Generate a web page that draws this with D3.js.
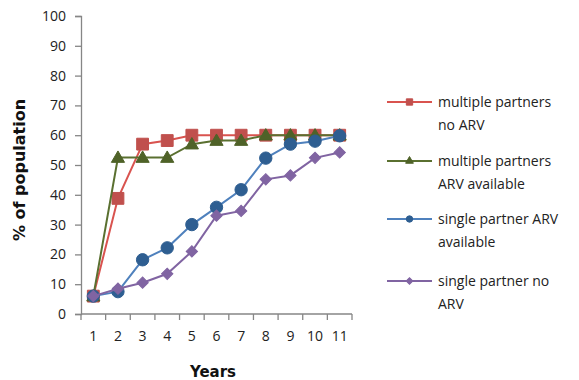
<!DOCTYPE html>
<html>
<head>
<meta charset="utf-8">
<script src="https://cdn.jsdelivr.net/npm/d3@7"></script>
<style>
  html, body { margin: 0; padding: 0; background: #fff; }
  svg { display: block; }
</style>
</head>
<body>
<svg id="chart" width="579" height="380"></svg>
<script>
// Years on the horizontal axis
const years = [1, 2, 3, 4, 5, 6, 7, 8, 9, 10, 11];
const yTicks = [0, 10, 20, 30, 40, 50, 60, 70, 80, 90, 100];

// % of population infected, per scenario
const multipleNoArv = [6, 38.8, 57, 58.2, 60, 60, 60, 60, 60, 60, 60];
const multipleArv   = [6, 52.5, 52.5, 52.5, 57, 58.2, 58.2, 60, 60, 60, 60];
const singleArv     = [6, 7.5, 18.2, 22.2, 30, 35.8, 41.7, 52.3, 57, 58, 59.8];
const singleNoArv   = [6, 8.5, 10.5, 13.5, 21, 33, 34.6, 45.2, 46.5, 52.4, 54.2];

const seriesNames = [
  ["multiple partners", "no ARV"],
  ["multiple partners", "ARV available"],
  ["single partner ARV", "available"],
  ["single partner no", "ARV"]
];

const series = [
  { name: seriesNames[0], values: multipleNoArv, line: "#D9534F", fill: "#C0504D", stroke: "#C0504D", shape: "square" },
  { name: seriesNames[1], values: multipleArv,   line: "#5A7030", fill: "#4F6228", stroke: "#4F6228", shape: "triangle" },
  { name: seriesNames[2], values: singleArv,     line: "#4F81BD", fill: "#2E5E91", stroke: "#2E5E91", shape: "circle" },
  { name: seriesNames[3], values: singleNoArv,   line: "#8064A2", fill: "#8064A2", stroke: "#8064A2", shape: "diamond" }
];

const svg = d3.select("#chart");
const plot = { left: 81, right: 352, top: 16, bottom: 314 };

const x = d3.scaleBand().domain(years).range([plot.left, plot.right]).padding(0);
const y = d3.scaleLinear().domain([0, 100]).range([plot.bottom, plot.top]);
const cx = d => x(d) + x.bandwidth() / 2;

const tickFont = "'Open Sans', 'Noto Sans', sans-serif";
const axisColor = "#868686";

// Y axis
const yAxis = svg.append("g")
  .attr("transform", `translate(${plot.left},0)`)
  .call(d3.axisLeft(y).tickValues(yTicks).tickSize(6).tickPadding(9));
// X axis with ticks on category boundaries
const boundaries = d3.range(years.length + 1).map(i => plot.left + i * x.bandwidth());
const xAxisG = svg.append("g").attr("transform", `translate(0,${plot.bottom})`);
xAxisG.append("line")
  .attr("x1", plot.left).attr("x2", plot.right)
  .attr("stroke", axisColor).attr("stroke-width", 1.3);
xAxisG.selectAll("line.tk").data(boundaries).join("line")
  .attr("class", "tk")
  .attr("x1", d => d).attr("x2", d => d)
  .attr("y1", 0).attr("y2", 6)
  .attr("stroke", axisColor).attr("stroke-width", 1.3);
xAxisG.selectAll("text").data(years).join("text")
  .attr("x", d => cx(d)).attr("y", 23)
  .attr("dy", "0.32em")
  .attr("text-anchor", "middle")
  .attr("font-family", tickFont).attr("font-size", 14)
  .attr("fill", "#222")
  .text(d => d);

yAxis.select(".domain").attr("stroke", axisColor).attr("stroke-width", 1.3);
yAxis.selectAll(".tick line").attr("stroke", axisColor).attr("stroke-width", 1.3);
yAxis.selectAll(".tick text")
  .attr("font-family", tickFont).attr("font-size", 14).attr("fill", "#222");

// Axis titles
svg.append("text")
  .attr("transform", `translate(19,170) rotate(-90)`)
  .attr("text-anchor", "middle")
  .attr("dy", "0.35em")
  .attr("font-family", "'DejaVu Sans', sans-serif")
  .attr("font-weight", "bold").attr("font-size", 16)
  .attr("fill", "#111")
  .text("% of population");

svg.append("text")
  .attr("x", 213).attr("y", 372)
  .attr("dy", "0.35em")
  .attr("text-anchor", "middle")
  .attr("font-family", "'DejaVu Sans', sans-serif")
  .attr("font-weight", "bold").attr("font-size", 15)
  .attr("fill", "#111")
  .text("Years");

// Marker shapes; the diamond is a square turned 45 degrees
const symbolFor = {
  square: d3.symbolSquare,
  triangle: d3.symbolTriangle,
  circle: d3.symbolCircle,
  diamond: d3.symbolSquare
};
const sizeFor = { square: 140, triangle: 75, circle: 120, diamond: 64 };
const legendSizeFor = { square: 40, triangle: 26, circle: 32, diamond: 22 };
const rotFor = { square: 0, triangle: 0, circle: 0, diamond: 45 };

const line = d3.line().x((d, i) => cx(years[i])).y(d => y(d));

series.forEach(s => {
  const g = svg.append("g");
  g.append("path")
    .datum(s.values)
    .attr("d", line)
    .attr("fill", "none")
    .attr("stroke", s.line)
    .attr("stroke-width", 2);
  g.selectAll("path.m").data(s.values).join("path")
    .attr("class", "m")
    .attr("transform", (d, i) => {
      const off = s.shape === "triangle" ? 1 : 0;
      return `translate(${cx(years[i])},${y(d) + off}) rotate(${rotFor[s.shape]})`;
    })
    .attr("d", d3.symbol().type(symbolFor[s.shape]).size(sizeFor[s.shape]))
    .attr("fill", s.fill)
    .attr("stroke", s.stroke)
    .attr("stroke-width", 1);
});

// Legend
const legendFont = "'Open Sans', 'Noto Sans', sans-serif";
const legendTop = [102, 161, 219, 281];
series.forEach((s, k) => {
  const g = svg.append("g").attr("transform", `translate(0,${legendTop[k]})`);
  g.append("line").attr("x1", 387).attr("x2", 432).attr("y1", 0).attr("y2", 0)
    .attr("stroke", s.line).attr("stroke-width", 2);
  g.append("path")
    .attr("transform", `translate(409.5,0) rotate(${rotFor[s.shape]})`)
    .attr("d", d3.symbol().type(symbolFor[s.shape]).size(legendSizeFor[s.shape]))
    .attr("fill", s.fill).attr("stroke", s.stroke).attr("stroke-width", 1);
  s.name.forEach((t, j) => {
    g.append("text")
      .attr("x", 438).attr("y", j * 23.5)
      .attr("dy", "0.35em")
      .attr("font-family", legendFont).attr("font-size", 14)
      .attr("fill", "#222")
      .text(t);
  });
});
</script>
</body>
</html>
